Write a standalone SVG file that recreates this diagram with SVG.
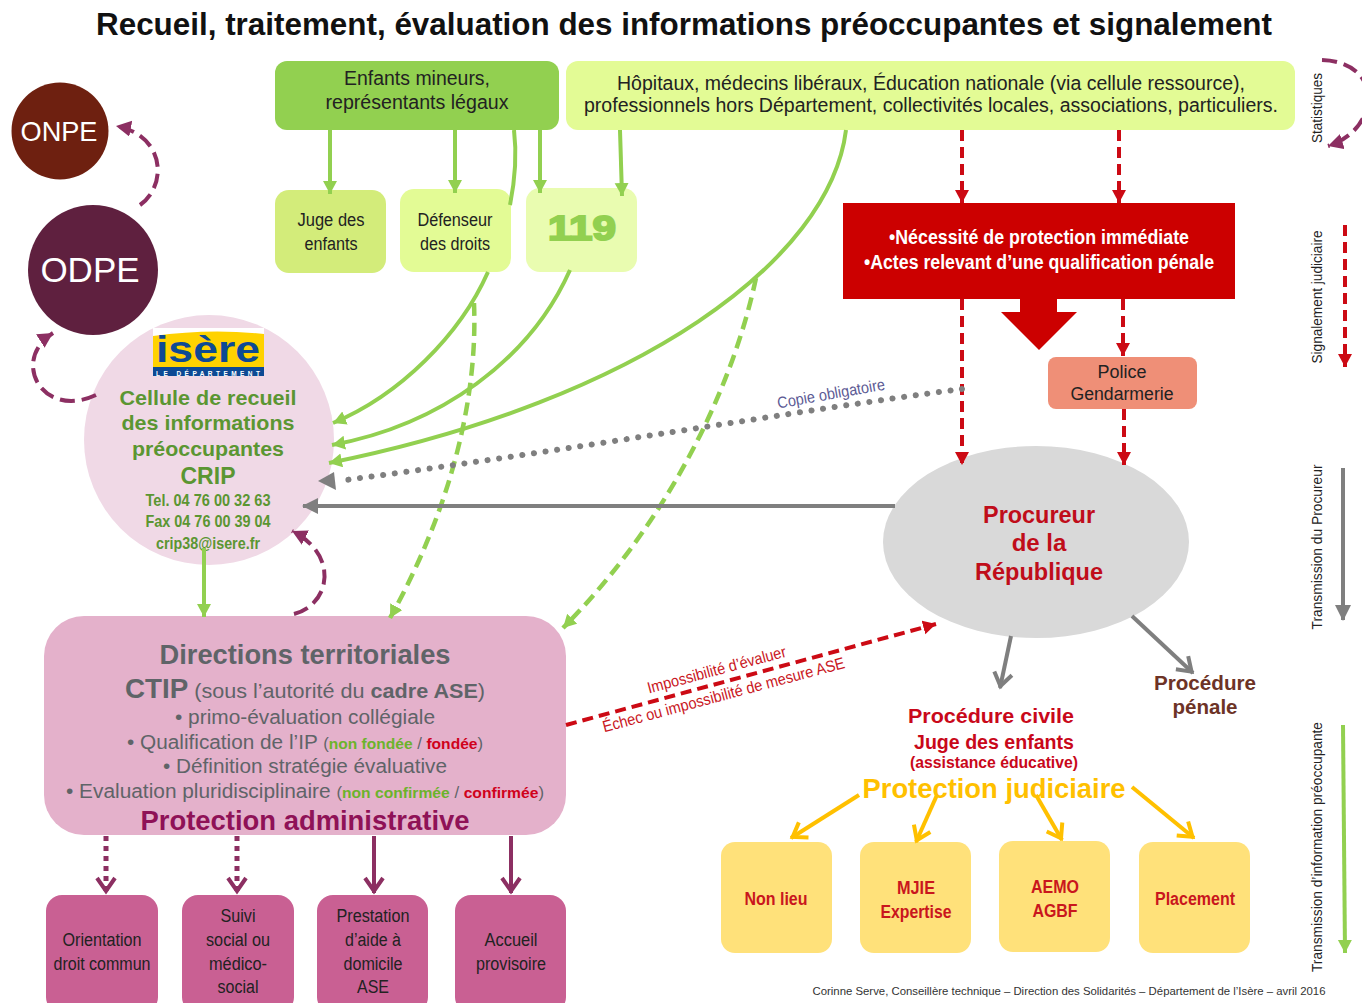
<svg xmlns="http://www.w3.org/2000/svg" width="1362" height="1003" viewBox="0 0 1362 1003">
<style>
text{font-family:"Liberation Sans",Arial,sans-serif;text-anchor:middle}
.b{font-weight:bold}
.g{fill:none;stroke:#92d050;stroke-width:4}
.gd{fill:none;stroke:#92d050;stroke-width:4.5;stroke-dasharray:13 7}
.r{fill:none;stroke:#cc0a14;stroke-width:4;stroke-dasharray:11 6}
.m{fill:none;stroke:#8c2f62;stroke-width:4;stroke-dasharray:15 7}
.p{fill:none;stroke:#8c2f62;stroke-width:4}
.pd{fill:none;stroke:#8c2f62;stroke-width:5;stroke-dasharray:5 5}
.gr{fill:none;stroke:#7f7f7f;stroke-width:4}
.o{fill:none;stroke:#ffc000;stroke-width:4}
.k{fill:#222}
.crip{fill:#5b9632;font-weight:bold}
.dt{fill:#5f6468}
.red{fill:#d0021b}
.gn{fill:#6cb32c}
.y{fill:#c9161d;font-weight:bold}
</style>
<defs>
<marker id="ag" markerUnits="userSpaceOnUse" markerWidth="16" markerHeight="16" refX="13" refY="7" orient="auto"><path d="M0 0L13 7L0 14Z" fill="#92d050"/></marker>
<marker id="ar" markerUnits="userSpaceOnUse" markerWidth="16" markerHeight="16" refX="13" refY="7" orient="auto"><path d="M0 0L13 7L0 14Z" fill="#cc0a14"/></marker>
<marker id="am" markerUnits="userSpaceOnUse" markerWidth="20" markerHeight="20" refX="15" refY="8" orient="auto"><path d="M0 0L15 8L0 16Z" fill="#8c2f62"/></marker>
<marker id="agr" markerUnits="userSpaceOnUse" markerWidth="20" markerHeight="18" refX="15" refY="8" orient="auto"><path d="M0 0L16 8L0 16Z" fill="#7f7f7f"/></marker>
<marker id="agv" markerUnits="userSpaceOnUse" markerWidth="26" markerHeight="26" refX="18" refY="12" orient="auto"><path d="M3 3L16 12L3 21" fill="none" stroke="#7f7f7f" stroke-width="4"/></marker>
<marker id="ao" markerUnits="userSpaceOnUse" markerWidth="26" markerHeight="26" refX="18" refY="12" orient="auto"><path d="M3 3L16 12L3 21" fill="none" stroke="#ffc000" stroke-width="4"/></marker>
<marker id="av" markerUnits="userSpaceOnUse" markerWidth="26" markerHeight="26" refX="18" refY="12" orient="auto"><path d="M3 3L16 12L3 21" fill="none" stroke="#8c2f62" stroke-width="4"/></marker>
</defs>
<rect width="1362" height="1003" fill="#fff"/>
<text id="title" class="b" x="684" y="35" font-size="31" fill="#111" textLength="1176" lengthAdjust="spacingAndGlyphs">Recueil, traitement, évaluation des informations préoccupantes et signalement</text>

<g id="n-enfants"><rect x="275" y="61" width="284" height="69" rx="12" fill="#92d050"/><text class="k" x="417" y="85" font-size="20" textLength="146" lengthAdjust="spacingAndGlyphs">Enfants mineurs,</text><text class="k" x="417" y="109" font-size="20" textLength="183" lengthAdjust="spacingAndGlyphs">représentants légaux</text></g>
<g id="n-hopitaux"><rect x="566" y="61" width="729" height="69" rx="12" fill="#e3fb95"/><text class="k" x="931" y="90" font-size="20" textLength="628" lengthAdjust="spacingAndGlyphs">Hôpitaux, médecins libéraux, Éducation nationale (via cellule ressource),</text><text class="k" x="931" y="112" font-size="20" textLength="694" lengthAdjust="spacingAndGlyphs">professionnels hors Département, collectivités locales, associations, particuliers.</text></g>
<g id="n-juge"><rect x="275" y="190" width="111" height="83" rx="14" fill="#d3ec7a"/><text class="k" x="331" y="226" font-size="18" textLength="67" lengthAdjust="spacingAndGlyphs">Juge des</text><text class="k" x="331" y="250" font-size="18" textLength="53" lengthAdjust="spacingAndGlyphs">enfants</text></g>
<g id="n-defenseur"><rect x="400" y="189" width="111" height="83" rx="14" fill="#e3fb95"/><text class="k" x="455" y="226" font-size="18" textLength="75" lengthAdjust="spacingAndGlyphs">Défenseur</text><text class="k" x="455" y="250" font-size="18" textLength="70" lengthAdjust="spacingAndGlyphs">des droits</text></g>
<g id="n-119"><rect x="526" y="188" width="111" height="84" rx="14" fill="#e9fcb0"/><text class="b" x="582" y="240" font-size="35" fill="#92d050" stroke="#92d050" stroke-width="2" textLength="68" lengthAdjust="spacingAndGlyphs">119</text></g>
<g id="n-necessite"><rect x="843" y="203" width="392" height="96" fill="#cc0000"/><text class="b" x="1039" y="244" font-size="20" fill="#fff" textLength="300" lengthAdjust="spacingAndGlyphs">•Nécessité de protection immédiate</text><text class="b" x="1039" y="269" font-size="20" fill="#fff" textLength="350" lengthAdjust="spacingAndGlyphs">•Actes relevant d’une qualification pénale</text><path d="M1020 299V312H1001L1039 350L1077 312H1057V299Z" fill="#cc0000"/></g>
<g id="n-police"><rect x="1048" y="357" width="149" height="52" rx="8" fill="#ef8f77"/><text class="k" x="1122" y="378" font-size="18" textLength="49" lengthAdjust="spacingAndGlyphs">Police</text><text class="k" x="1122" y="400" font-size="18" textLength="103" lengthAdjust="spacingAndGlyphs">Gendarmerie</text></g>
<g id="n-procureur"><ellipse cx="1036" cy="542" rx="153" ry="96" fill="#d9d9d9"/><text class="b" x="1039" y="523" font-size="24" fill="#c00d1a" textLength="112" lengthAdjust="spacingAndGlyphs">Procureur</text><text class="b" x="1039" y="551" font-size="24" fill="#c00d1a">de la</text><text class="b" x="1039" y="580" font-size="24" fill="#c00d1a" textLength="128" lengthAdjust="spacingAndGlyphs">République</text></g>
<g id="n-onpe"><circle cx="60" cy="131" r="48.5" fill="#6e2010"/><text x="59" y="141" font-size="28" fill="#fff" textLength="77" lengthAdjust="spacingAndGlyphs">ONPE</text></g>
<g id="n-odpe"><circle cx="93" cy="270" r="65" fill="#5f203f"/><text x="90" y="282" font-size="35" fill="#fff">ODPE</text></g>
<g id="n-crip"><circle cx="209" cy="440" r="125" fill="#f0d9e6"/>
<rect x="153" y="328" width="111" height="48" fill="#ffd200"/><path d="M153 328H264V334Q210 328 153 336Z" fill="#fff"/><rect x="153" y="367" width="111" height="9" fill="#0d4a94"/>
<text class="b" x="208" y="361.5" font-size="37" fill="#0d4a94" textLength="104" lengthAdjust="spacingAndGlyphs">isère</text><text class="b" x="208" y="375.5" font-size="6.5" fill="#fff" textLength="104" lengthAdjust="spacing">LE DÉPARTEMENT</text>
<text class="crip" x="208" y="405" font-size="21" textLength="177" lengthAdjust="spacingAndGlyphs">Cellule de recueil</text><text class="crip" x="208" y="430" font-size="21" textLength="173" lengthAdjust="spacingAndGlyphs">des informations</text><text class="crip" x="208" y="456" font-size="21" textLength="152" lengthAdjust="spacingAndGlyphs">préoccupantes</text><text class="crip" x="208" y="484" font-size="24" textLength="55" lengthAdjust="spacingAndGlyphs">CRIP</text><text class="crip" x="208" y="506" font-size="17" textLength="125" lengthAdjust="spacingAndGlyphs">Tel. 04 76 00 32 63</text><text class="crip" x="208" y="527" font-size="17" textLength="125" lengthAdjust="spacingAndGlyphs">Fax 04 76 00 39 04</text><text class="crip" x="208" y="549" font-size="17" textLength="104" lengthAdjust="spacingAndGlyphs">crip38@isere.fr</text></g>
<g id="n-directions"><rect x="44" y="616" width="522" height="219" rx="40" fill="#e4b1cb"/>
<text class="b dt" x="305" y="664" font-size="27" textLength="291" lengthAdjust="spacingAndGlyphs">Directions territoriales</text>
<text class="dt" x="305" y="698" font-size="21" textLength="360" lengthAdjust="spacingAndGlyphs"><tspan class="b" font-size="27">CTIP</tspan> (sous l’autorité du <tspan class="b">cadre ASE</tspan>)</text>
<text class="dt" x="305" y="724" font-size="20" textLength="260" lengthAdjust="spacingAndGlyphs">• primo-évaluation collégiale</text>
<text class="dt" x="305" y="749" font-size="20" textLength="356" lengthAdjust="spacingAndGlyphs">• Qualification de l’IP <tspan font-size="16">(</tspan><tspan class="gn b" font-size="15">non fondée</tspan><tspan font-size="16"> / </tspan><tspan class="red b" font-size="15">fondée</tspan><tspan font-size="16">)</tspan></text>
<text class="dt" x="305" y="773" font-size="20" textLength="284" lengthAdjust="spacingAndGlyphs">• Définition stratégie évaluative</text>
<text class="dt" x="305" y="798" font-size="20" textLength="478" lengthAdjust="spacingAndGlyphs">• Evaluation pluridisciplinaire <tspan font-size="16">(</tspan><tspan class="gn b" font-size="15">non confirmée</tspan><tspan font-size="16"> / </tspan><tspan class="red b" font-size="15">confirmée</tspan><tspan font-size="16">)</tspan></text>
<text class="b" x="305" y="830" font-size="27" fill="#8f1257" textLength="329" lengthAdjust="spacingAndGlyphs">Protection administrative</text></g>
<g id="n-orientation"><rect x="46" y="895" width="112" height="118" rx="16" fill="#c96093"/><text class="k" x="102" y="946" font-size="18" textLength="79" lengthAdjust="spacingAndGlyphs">Orientation</text><text class="k" x="102" y="970" font-size="18" textLength="97" lengthAdjust="spacingAndGlyphs">droit commun</text></g>
<g id="n-suivi"><rect x="182" y="895" width="112" height="118" rx="16" fill="#c96093"/><text class="k" x="238" y="922" font-size="18" textLength="35" lengthAdjust="spacingAndGlyphs">Suivi</text><text class="k" x="238" y="946" font-size="18" textLength="64" lengthAdjust="spacingAndGlyphs">social ou</text><text class="k" x="238" y="970" font-size="18" textLength="58" lengthAdjust="spacingAndGlyphs">médico-</text><text class="k" x="238" y="993" font-size="18" textLength="41" lengthAdjust="spacingAndGlyphs">social</text></g>
<g id="n-prestation"><rect x="317" y="895" width="111" height="118" rx="16" fill="#c96093"/><text class="k" x="373" y="922" font-size="18" textLength="73" lengthAdjust="spacingAndGlyphs">Prestation</text><text class="k" x="373" y="946" font-size="18" textLength="56" lengthAdjust="spacingAndGlyphs">d’aide à</text><text class="k" x="373" y="970" font-size="18" textLength="59" lengthAdjust="spacingAndGlyphs">domicile</text><text class="k" x="373" y="993" font-size="18" textLength="32" lengthAdjust="spacingAndGlyphs">ASE</text></g>
<g id="n-accueil"><rect x="455" y="895" width="111" height="118" rx="16" fill="#c96093"/><text class="k" x="511" y="946" font-size="18" textLength="53" lengthAdjust="spacingAndGlyphs">Accueil</text><text class="k" x="511" y="970" font-size="18" textLength="70" lengthAdjust="spacingAndGlyphs">provisoire</text></g>
<g id="n-nonlieu"><rect x="721" y="842" width="111" height="111" rx="14" fill="#ffe17a"/><text class="y" x="776" y="905" font-size="18" textLength="63" lengthAdjust="spacingAndGlyphs">Non lieu</text></g>
<g id="n-mjie"><rect x="860" y="842" width="111" height="111" rx="14" fill="#ffe17a"/><text class="y" x="916" y="894" font-size="18" textLength="38" lengthAdjust="spacingAndGlyphs">MJIE</text><text class="y" x="916" y="918" font-size="18" textLength="71" lengthAdjust="spacingAndGlyphs">Expertise</text></g>
<g id="n-aemo"><rect x="999" y="841" width="111" height="111" rx="14" fill="#ffe17a"/><text class="y" x="1055" y="893" font-size="18" textLength="48" lengthAdjust="spacingAndGlyphs">AEMO</text><text class="y" x="1055" y="917" font-size="18" textLength="45" lengthAdjust="spacingAndGlyphs">AGBF</text></g>
<g id="n-placement"><rect x="1139" y="842" width="111" height="111" rx="14" fill="#ffe17a"/><text class="y" x="1195" y="905" font-size="18" textLength="80" lengthAdjust="spacingAndGlyphs">Placement</text></g>

<g id="connectors">
<path class="g" d="M330 130V194" marker-end="url(#ag)"/>
<path class="g" d="M455 130V193" marker-end="url(#ag)"/>
<path class="g" d="M540 130V193" marker-end="url(#ag)"/>
<path class="g" d="M620 130L622 196" marker-end="url(#ag)"/>
<path class="g" d="M514 130C517 155 515 180 510 205"/>
<path class="g" d="M488 272C460 335 400 395 333 423" marker-end="url(#ag)"/>
<path class="g" d="M570 270C530 360 440 425 332 445" marker-end="url(#ag)"/>
<path class="g" d="M846 130C830 260 640 400 329 463" marker-end="url(#ag)"/>
<path class="gd" d="M474 303C478 400 450 510 390 618" marker-end="url(#ag)"/>
<path class="gd" d="M756 278C730 400 660 530 563 628" marker-end="url(#ag)"/>
<path class="g" d="M204 548V617" marker-end="url(#ag)"/>
<path class="r" d="M962 130V203" marker-end="url(#ar)"/>
<path class="r" d="M1119 130V203" marker-end="url(#ar)"/>
<path class="r" d="M962 299V465" marker-end="url(#ar)"/>
<path class="r" d="M1123 299V356" marker-end="url(#ar)"/>
<path class="r" d="M1124 409V465" marker-end="url(#ar)"/>
<path class="r" d="M566 725L936 624" marker-end="url(#ar)"/>
<path fill="none" stroke="#7f7f7f" stroke-width="6" stroke-dasharray="0.1 11.6" stroke-linecap="round" d="M962 389C800 410 560 452 338 481"/><path d="M318 481L334 472L336 490Z" fill="#7f7f7f"/>
<path class="gr" d="M895 506H303" marker-end="url(#agr)"/>
<path class="gr" d="M1011 636L1000 688" marker-end="url(#agv)"/>
<path class="gr" d="M1132 616L1193 673" marker-end="url(#agv)"/>
<path class="o" d="M859 795L791 838" marker-end="url(#ao)"/>
<path class="o" d="M937 795L916 842" marker-end="url(#ao)"/>
<path class="o" d="M1036 795L1062 840" marker-end="url(#ao)"/>
<path class="o" d="M1132 787L1194 838" marker-end="url(#ao)"/>
<path class="m" d="M140 205C168 185 165 135 116 126" marker-end="url(#am)"/>
<path class="m" d="M96 395C42 420 10 360 53 333" marker-end="url(#am)"/>
<path class="m" d="M294 614C330 605 340 555 292 531" marker-end="url(#am)"/>
<path class="m" d="M1322 60C1385 62 1380 130 1328 146" marker-end="url(#am)"/>
<path class="pd" d="M106 836V893" marker-end="url(#av)"/>
<path class="pd" d="M237 836V893" marker-end="url(#av)"/>
<path class="p" d="M374 836V893" marker-end="url(#av)"/>
<path class="p" d="M511 836V893" marker-end="url(#av)"/>
<path class="r" d="M1345 225V367" marker-end="url(#ar)"/>
<path class="gr" d="M1343 468V620" marker-end="url(#agr)"/>
<path class="g" d="M1343 725L1345 953" marker-end="url(#ag)"/>
</g>

<g id="labels">
<text x="832" y="399" font-size="16" fill="#5c5a94" transform="rotate(-10 832 399)" textLength="109" lengthAdjust="spacingAndGlyphs">Copie obligatoire</text>
<text x="718" y="675" font-size="16" fill="#c9161d" transform="rotate(-15 718 675)" textLength="143" lengthAdjust="spacingAndGlyphs">Impossibilité d’évaluer</text>
<text x="725" y="700" font-size="16" fill="#c9161d" transform="rotate(-15 725 700)" textLength="250" lengthAdjust="spacingAndGlyphs">Échec ou impossibilité de mesure ASE</text>
<text class="b" x="991" y="723" font-size="20" fill="#c9081a" textLength="166" lengthAdjust="spacingAndGlyphs">Procédure civile</text>
<text class="b" x="994" y="749" font-size="20" fill="#c9081a" textLength="160" lengthAdjust="spacingAndGlyphs">Juge des enfants</text>
<text class="b" x="994" y="768" font-size="16" fill="#c9081a" textLength="168" lengthAdjust="spacingAndGlyphs">(assistance éducative)</text>
<text class="b" x="994" y="798" font-size="28" fill="#ffc000" textLength="263" lengthAdjust="spacingAndGlyphs">Protection judiciaire</text>
<text class="b" x="1205" y="690" font-size="20" fill="#6d3326" textLength="102" lengthAdjust="spacingAndGlyphs">Procédure</text>
<text class="b" x="1205" y="714" font-size="20" fill="#6d3326" textLength="65" lengthAdjust="spacingAndGlyphs">pénale</text>
<text x="1322" y="108" font-size="14" fill="#222" transform="rotate(-90 1322 108)" textLength="70" lengthAdjust="spacingAndGlyphs">Statistiques</text>
<text x="1322" y="297" font-size="14" fill="#222" transform="rotate(-90 1322 297)" textLength="133" lengthAdjust="spacingAndGlyphs">Signalement judiciaire</text>
<text x="1322" y="547" font-size="14" fill="#222" transform="rotate(-90 1322 547)" textLength="165" lengthAdjust="spacingAndGlyphs">Transmission du Procureur</text>
<text x="1322" y="847" font-size="14" fill="#222" transform="rotate(-90 1322 847)" textLength="250" lengthAdjust="spacingAndGlyphs">Transmission d’information préoccupante</text>
<text x="1069" y="995" font-size="11.5" fill="#333" textLength="513" lengthAdjust="spacingAndGlyphs">Corinne Serve, Conseillère technique – Direction des Solidarités – Département de l’Isère – avril 2016</text>
</g>
</svg>
